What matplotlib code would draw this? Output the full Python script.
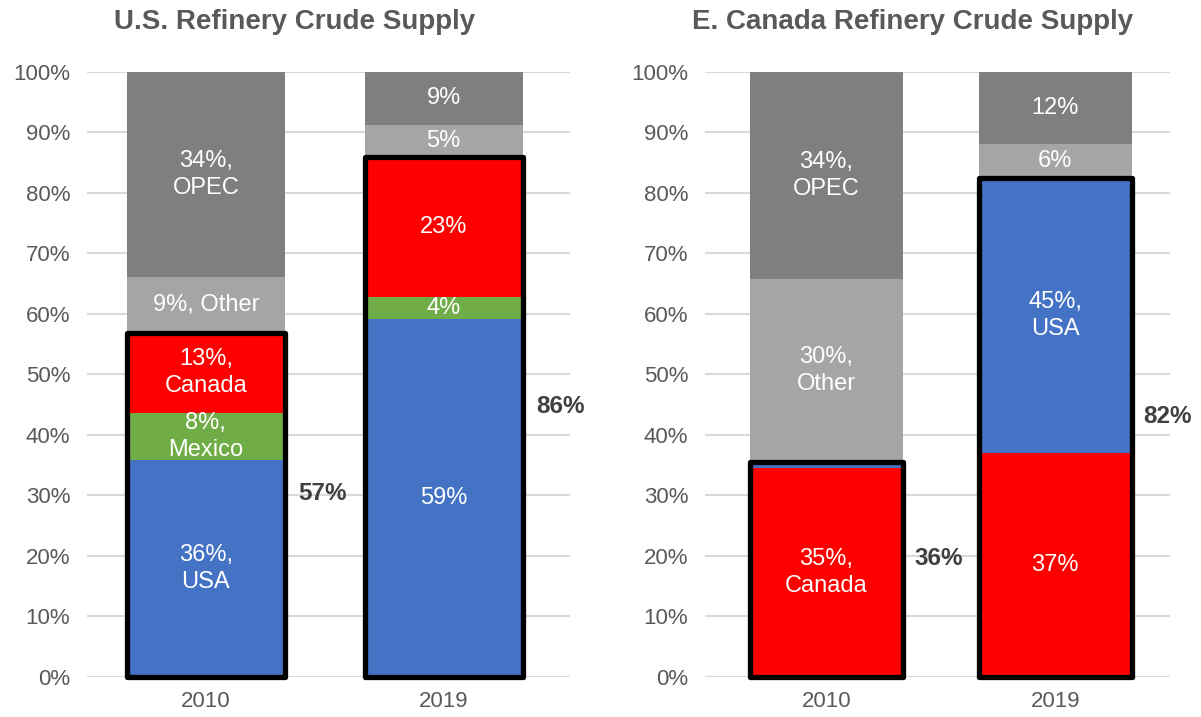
import numpy as np
import matplotlib
matplotlib.use('Agg')
import matplotlib.pyplot as plt
from matplotlib.patches import Rectangle

plt.rcParams['font.family'] = ['Liberation Sans', 'DejaVu Sans']

years = ['2010', '2019']

# U.S. refinery crude supply (% share)
us_usa = [35.9, 59.2]
us_mexico = [7.7, 3.6]
us_canada = [13.3, 23.1]
us_other = [9.2, 5.3]
us_opec = [33.9, 8.8]
us_usa_lbl = ['36%,\nUSA', '59%']
us_mexico_lbl = ['8%,\nMexico', '4%']
us_canada_lbl = ['13%,\nCanada', '23%']
us_other_lbl = ['9%, Other', '5%']
us_opec_lbl = ['34%,\nOPEC', '9%']
us_total_lbl = ['57%', '86%']

# E. Canada refinery crude supply (% share)
ec_canada = [34.6, 37.0]
ec_usa = [1.0, 45.5]
ec_other = [30.2, 5.5]
ec_opec = [34.2, 12.0]
ec_canada_lbl = ['35%,\nCanada', '37%']
ec_usa_lbl = ['', '45%,\nUSA']
ec_other_lbl = ['30%,\nOther', '6%']
ec_opec_lbl = ['34%,\nOPEC', '12%']
ec_total_lbl = ['36%', '82%']

BLUE = '#4472C4'
RED = '#FF0000'
GREEN = '#70AD47'
LGRAY = '#A5A5A5'
DGRAY = '#7F7F7F'


def stacked(ax, series, n_na, totals_lbl, width):
    x = np.arange(len(years))
    bottom = np.zeros(len(years))
    for vals, color, labels in series:
        vals = np.array(vals)
        ax.bar(x, vals, width, bottom=bottom, color=color, zorder=2)
        for i in range(len(x)):
            if labels[i]:
                ax.text(x[i], bottom[i] + vals[i] / 2, labels[i], ha='center', va='center',
                        color='white', fontsize=17, linespacing=1.3, zorder=4)
        bottom = bottom + vals
    # outline around North American share
    na_total = np.sum([s[0] for s in series[:n_na]], axis=0)
    for i in range(len(x)):
        ax.add_patch(Rectangle((x[i] - width / 2, 0), width, na_total[i], fill=False,
                               edgecolor='black', lw=3.8, joinstyle='round', zorder=3, clip_on=False))
        ax.text(x[i] + 0.49, na_total[i] / 2 + 1.8, totals_lbl[i], ha='center', va='center',
                fontsize=17.5, fontweight='bold', color='#404040', clip_on=False)
    ax.set_ylim(0, 100)
    ax.set_yticks(np.arange(0, 101, 10))
    ax.set_yticklabels([f'{v}%' for v in range(0, 101, 10)])
    ax.set_xticks(x)
    ax.set_xticklabels(years)
    ax.tick_params(length=0, labelsize=16, labelcolor='#595959', pad=12)
    ax.tick_params(axis='x', pad=10)
    ax.yaxis.grid(True, color='#D9D9D9', lw=1.5, zorder=0)
    ax.set_axisbelow(True)
    for s in ax.spines.values():
        s.set_visible(False)


fig = plt.figure(figsize=(12.01, 7.17), dpi=100)
ax1 = fig.add_axes([0.0724, 0.0558, 0.402, 0.844])
ax2 = fig.add_axes([0.587, 0.0558, 0.387, 0.844])

stacked(ax1, [(us_usa, BLUE, us_usa_lbl), (us_mexico, GREEN, us_mexico_lbl),
              (us_canada, RED, us_canada_lbl), (us_other, LGRAY, us_other_lbl),
              (us_opec, DGRAY, us_opec_lbl)], 3, us_total_lbl, 0.664)
ax1.set_xlim(-0.5, 1.53)

stacked(ax2, [(ec_canada, RED, ec_canada_lbl), (ec_usa, BLUE, ec_usa_lbl),
              (ec_other, LGRAY, ec_other_lbl), (ec_opec, DGRAY, ec_opec_lbl)],
        2, ec_total_lbl, 0.67)
ax2.set_xlim(-0.53, 1.5)

fig.text(0.245, 0.969, 'U.S. Refinery Crude Supply', ha='center', va='center',
         fontsize=20, fontweight='bold', color='#595959')
fig.text(0.760, 0.969, 'E. Canada Refinery Crude Supply', ha='center', va='center',
         fontsize=20, fontweight='bold', color='#595959')

fig.savefig('out.png', dpi=100)
